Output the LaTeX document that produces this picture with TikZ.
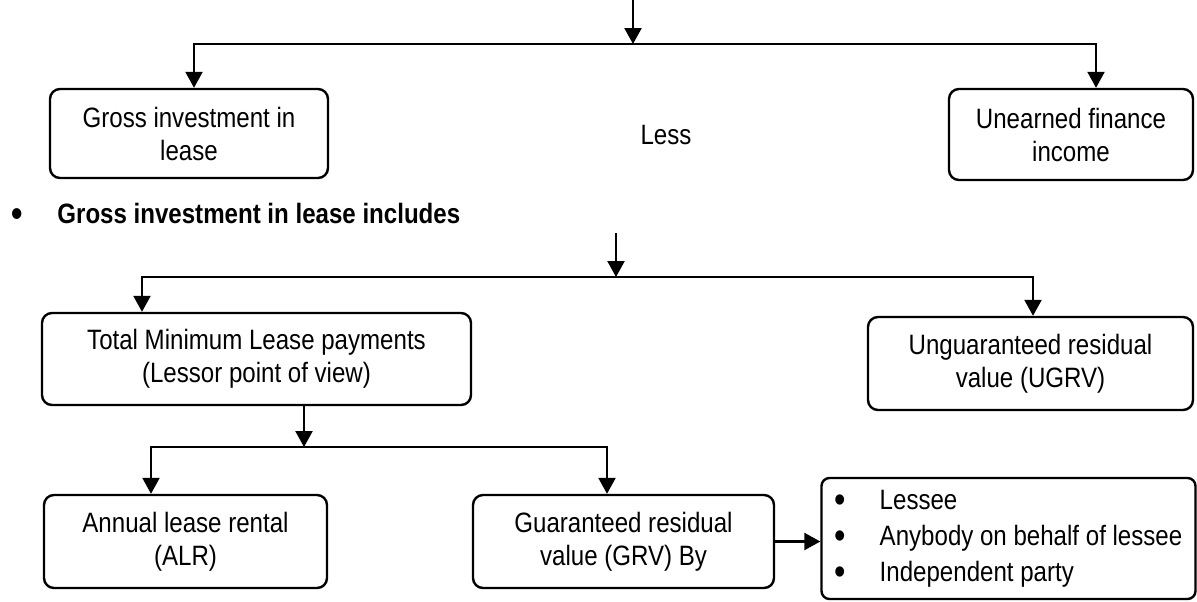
\documentclass[tikz,border=0pt]{standalone}
\usepackage{fontspec}
\setmainfont{Liberation Sans}[FakeStretch=0.86]
\usepackage{tikz}
\usetikzlibrary{arrows.meta,calc}

\newcommand{\itemdot}{\raisebox{-0.12em}{\scalebox{1.35}{•}}}

\begin{document}
\begin{tikzpicture}[x=0.5pt,y=-0.5pt,
  box/.style={draw,line width=1.2pt,rounded corners=5pt,align=center,inner sep=0pt,
    font=\fontsize{14}{16.5}\selectfont},
  arr/.style={line width=1.15pt,-{Triangle[length=8pt,width=8.5pt]}}]
\useasboundingbox (0,0) rectangle (1197,601);

% gross less unearned
\coordinate (in1) at (633,0);
\coordinate (fork1) at (633,44);
\node[box,minimum width=139pt,minimum height=44.5pt] (gross) at (189,133.5) {Gross investment in\\lease};
\node[font=\fontsize{14}{16.5}\selectfont,inner sep=0pt] (less) at (666,135) {Less};
\node[box,minimum width=122pt,minimum height=45.5pt] (unearned) at (1071,134.5) {Unearned finance\\income};
\draw[arr] (in1) -- (fork1);
\draw[arr] (fork1) -| ($(gross.north)+(5,0)$);
\draw[arr] (fork1) -| ($(unearned.north)+(25,0)$);

\node[anchor=west,inner sep=0pt,font=\fontsize{14}{16.5}\selectfont\bfseries] (includes) at (11,215)
  {\makebox[23pt][l]{\itemdot}Gross investment in lease includes};

% what the gross investment is made of
\coordinate (in2) at (616,233);
\coordinate (fork2) at (616,277);
\node[box,minimum width=214.5pt,minimum height=46pt] (mlp) at (256.5,359) {Total Minimum Lease payments\\(Lessor point of view)};
\node[box,minimum width=162.5pt,minimum height=46.5pt] (ugrv) at (1030.5,363.5) {Unguaranteed residual\\value (UGRV)};
\draw[arr] (in2) -- (fork2);
\draw[arr] (fork2) -| ($(mlp.north)+(-114.5,0)$);
\draw[arr] (fork2) -| ($(ugrv.north)+(2.5,0)$);

% minimum lease payments
\coordinate (fork3) at (304,447);
\node[box,minimum width=141.5pt,minimum height=46.5pt] (alr) at (185.5,541.5) {Annual lease rental\\(ALR)};
\node[box,minimum width=150.5pt,minimum height=46.5pt] (grv) at (623.5,541.5) {Guaranteed residual\\value (GRV) By};
\node[box,align=left,minimum width=187pt,minimum height=60.5pt,rounded corners=4pt,
  font=\fontsize{14}{18}\selectfont] (parties) at (1008.5,538.5)
  {\makebox[22.5pt][l]{\itemdot}Lessee\\
   \makebox[22.5pt][l]{\itemdot}Anybody on behalf of lessee\\
   \makebox[22.5pt][l]{\itemdot}Independent party};
\draw[arr] (mlp.south -| fork3) -- (fork3);
\draw[arr] (fork3) -| ($(alr.north)+(-34.5,0)$);
\draw[arr] (fork3) -| ($(grv.north)+(-16.5,0)$);
\draw[arr] (grv.east) -- (grv.east -| parties.west);
\end{tikzpicture}
\end{document}
